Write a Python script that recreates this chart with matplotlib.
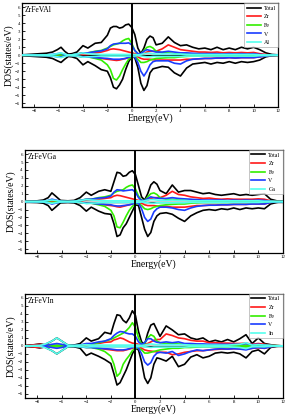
import matplotlib
matplotlib.use("Agg")
import matplotlib.pyplot as plt
import numpy as np

plt.rcParams['font.family'] = ['Liberation Serif', 'DejaVu Serif']

# energy grid (eV): a head that differs per compound, then a shared tail
tail_e = [-4.5, -4, -3.6, -3, -2.5, -2, -1.75, -1.5, -1.25, -1, -0.75, -0.5, -0.25, 0,
          0.25, 0.5, 0.75, 1, 1.25, 1.5, 1.75, 2, 2.5, 3, 3.5, 4, 4.5, 5, 5.5, 6, 6.5,
          7, 7.5, 8, 8.5, 9, 9.5, 10, 10.5, 11, 11.5, 12]
head_al = [-9, -8, -7, -6.5, -6.1, -5.8, -5.5, -5.2, -4.9]
head_ga = [-9, -8, -7.5, -7.1, -6.8, -6.5, -6.1, -5.5, -5]
head_in = [-9, -8.2, -7.8, -7.4, -6.8, -6.4, -6.0, -5.5, -5]

# ---- ZrFeVAl ----
al_total_up = [0.05, 0.15, 0.25, 0.4, 0.7, 1.0, 0.5, 0.15, 0.2,
               0.4, 1.2, 0.9, 1.5, 1.6, 2.5, 3.4, 3.6, 3.6, 3.4, 3.5, 3.8, 3.9, 3.5, 2.6, 0.9,
               0.2, 0.9, 2.0, 2.4, 2.2, 1.3, 1.5, 2.3, 1.6, 1.2, 1.3, 1.0, 0.8, 0.9, 0.7, 1.0,
               0.7, 0.9, 0.7, 1.0, 0.8, 1.0, 0.7, 0.3, 0.1, 0.05]
al_total_dn = [-0.05, -0.15, -0.25, -0.4, -0.7, -0.9, -0.5, -0.15, -0.2,
               -0.4, -1.2, -0.8, -1.3, -1.8, -2.0, -2.8, -4.0, -4.2, -3.7, -3.0, -1.8, -0.8, -0.2,
               -0.3, -1.5, -3.5, -4.4, -3.8, -2.2, -1.7, -1.6, -1.4, -1.5, -2.2, -2.6, -1.6, -1.1,
               -1.0, -0.9, -1.1, -0.9, -1.0, -0.8, -1.0, -0.8, -0.9, -0.8, -0.6, -0.2, -0.05, 0]
al_zr_up = [0, 0.02, 0.03, 0.05, 0.08, 0.1, 0.05, 0.02, 0.05,
            0.1, 0.2, 0.2, 0.3, 0.4, 0.6, 0.75, 0.8, 0.75, 0.7, 0.6, 0.5, 0.4, 0.3, 0.2, 0.1,
            0.1, 0.2, 0.4, 0.5, 0.5, 0.5, 0.8, 1.3, 1.0, 0.7, 0.6, 0.5, 0.4, 0.4, 0.35, 0.4,
            0.3, 0.35, 0.3, 0.35, 0.3, 0.35, 0.2, 0.1, 0.02, 0]
al_zr_dn = [0, -0.02, -0.03, -0.05, -0.08, -0.1, -0.05, -0.02, -0.05,
            -0.1, -0.15, -0.15, -0.3, -0.4, -0.5, -0.55, -0.6, -0.65, -0.6, -0.5, -0.4, -0.3,
            -0.2, -0.15, -0.2, -0.4, -0.5, -0.5, -0.5, -0.55, -0.6, -0.6, -0.6, -0.6, -0.6,
            -0.5, -0.5, -0.45, -0.4, -0.4, -0.35, -0.35, -0.3, -0.35, -0.3, -0.3, -0.3, -0.2,
            -0.1, -0.02, 0]
al_fe_up = [0, 0.02, 0.03, 0.05, 0.1, 0.15, 0.05, 0, 0.05,
            0.15, 0.3, 0.3, 0.5, 0.6, 0.9, 1.1, 1.3, 1.4, 1.5, 1.8, 2.0, 2.1, 1.5, 0.6, 0.2,
            0.1, 0.6, 1.0, 1.1, 0.9, 0.5, 0.3, 0.3, 0.2, 0.2, 0.15, 0.1, 0.1, 0.1, 0.1, 0.1,
            0.1, 0.1, 0.1, 0.1, 0.1, 0.1, 0.05, 0.02, 0, 0]
al_fe_dn = [0, -0.02, -0.03, -0.05, -0.1, -0.1, -0.05, 0, -0.05,
            -0.1, -0.2, -0.2, -0.4, -0.6, -1.2, -1.8, -2.9, -3.1, -2.6, -1.8, -1.1, -0.5, -0.2,
            -0.2, -0.5, -0.9, -0.9, -0.8, -0.6, -0.5, -0.4, -0.35, -0.3, -0.3, -0.2, -0.15,
            -0.1, -0.1, -0.1, -0.1, -0.1, -0.1, -0.1, -0.1, -0.1, -0.1, -0.1, -0.05, -0.02, 0, 0]
al_v_up = [0, 0.03, 0.05, 0.1, 0.2, 0.25, 0.1, 0.02, 0.05,
           0.15, 0.3, 0.3, 0.45, 0.55, 0.8, 1.2, 1.4, 1.45, 1.5, 1.5, 1.5, 1.55, 1.3, 0.6, 0.2,
           0.2, 0.5, 0.7, 0.6, 0.5, 0.4, 0.4, 0.5, 0.4, 0.3, 0.3, 0.25, 0.2, 0.2, 0.2, 0.2,
           0.15, 0.2, 0.15, 0.2, 0.15, 0.2, 0.1, 0.05, 0, 0]
al_v_dn = [0, -0.03, -0.05, -0.1, -0.2, -0.2, -0.1, -0.02, -0.05,
           -0.1, -0.2, -0.2, -0.3, -0.35, -0.4, -0.45, -0.5, -0.5, -0.5, -0.45, -0.4, -0.25,
           -0.1, -0.2, -0.9, -2.0, -2.6, -2.0, -1.2, -0.8, -0.7, -0.7, -0.7, -1.0, -1.1, -0.7,
           -0.5, -0.45, -0.4, -0.4, -0.35, -0.35, -0.3, -0.35, -0.3, -0.3, -0.3, -0.2, -0.1,
           -0.02, 0]
al_x_up = [0, 0.02, 0.05, 0.1, 0.2, 0.3, 0.15, 0.02, 0.05,
           0.15, 0.3, 0.2, 0.15, 0.1, 0.1, 0.1, 0.1, 0.1, 0.1, 0.1, 0.1, 0.1, 0.1, 0.1, 0.05,
           0.1, 0.2, 0.25, 0.25, 0.2, 0.15, 0.15, 0.2, 0.15, 0.15, 0.1, 0.1, 0.1, 0.1, 0.1,
           0.1, 0.1, 0.1, 0.1, 0.1, 0.1, 0.1, 0.05, 0.05, 0.02, 0]
al_x_dn = [0, -0.02, -0.05, -0.1, -0.2, -0.3, -0.15, -0.02, -0.05,
           -0.1, -0.25, -0.2, -0.15, -0.1, -0.1, -0.1, -0.1, -0.1, -0.1, -0.1, -0.1, -0.1,
           -0.1, -0.1, -0.05, -0.1, -0.15, -0.2, -0.2, -0.15, -0.15, -0.15, -0.15, -0.15,
           -0.15, -0.1, -0.1, -0.1, -0.1, -0.1, -0.1, -0.1, -0.1, -0.1, -0.1, -0.1, -0.1,
           -0.05, -0.05, -0.02, 0]

# ---- ZrFeVGa ----
ga_total_up = [0.05, 0.1, 0.2, 0.5, 1.1, 0.7, 0.15, 0.1, 0.15,
               0.5, 1.2, 0.8, 1.3, 1.5, 1.3, 2.5, 3.7, 3.6, 3.2, 3.3, 3.7, 3.9, 3.4, 2.0, 0.6,
               0.2, 1.0, 2.1, 2.5, 2.2, 1.4, 1.0, 2.1, 1.2, 1.4, 1.4, 1.2, 1.0, 1.1, 0.9, 0.8,
               0.9, 1.0, 0.8, 0.9, 0.8, 0.9, 1.0, 0.3, 0.1, 0.05]
ga_total_dn = [-0.05, -0.1, -0.2, -0.5, -1.1, -0.7, -0.15, -0.1, -0.15,
               -0.5, -1.2, -0.7, -1.2, -1.5, -1.6, -2.8, -4.4, -4.2, -3.3, -2.8, -2.0, -1.2, -0.4,
               -0.5, -2.0, -3.5, -4.4, -3.9, -2.5, -1.8, -1.5, -1.4, -1.6, -2.1, -2.5, -1.8, -1.4,
               -1.1, -1.0, -1.1, -0.9, -1.0, -0.8, -1.0, -0.8, -0.9, -0.8, -0.9, -0.3, -0.1, 0]
ga_zr_up = [0, 0.02, 0.03, 0.05, 0.1, 0.05, 0.02, 0.02, 0.05,
            0.1, 0.2, 0.2, 0.3, 0.4, 0.5, 0.7, 0.8, 0.75, 0.65, 0.55, 0.45, 0.35, 0.25, 0.15,
            0.1, 0.1, 0.2, 0.4, 0.5, 0.5, 0.5, 0.8, 1.3, 0.9, 0.8, 0.6, 0.5, 0.4, 0.45, 0.35,
            0.3, 0.35, 0.3, 0.3, 0.3, 0.3, 0.35, 0.3, 0.1, 0.02, 0]
ga_zr_dn = [0, -0.02, -0.03, -0.05, -0.1, -0.05, -0.02, -0.02, -0.05,
            -0.1, -0.15, -0.15, -0.3, -0.4, -0.5, -0.55, -0.65, -0.7, -0.6, -0.5, -0.4, -0.3,
            -0.2, -0.15, -0.2, -0.4, -0.5, -0.5, -0.5, -0.55, -0.6, -0.6, -0.7, -0.7, -0.7,
            -0.6, -0.5, -0.5, -0.45, -0.45, -0.4, -0.4, -0.35, -0.35, -0.35, -0.3, -0.3, -0.3,
            -0.1, -0.02, 0]
ga_fe_up = [0, 0.02, 0.03, 0.1, 0.15, 0.1, 0.02, 0.02, 0.05,
            0.15, 0.3, 0.3, 0.5, 0.6, 0.8, 1.1, 1.3, 1.4, 1.5, 1.8, 2.0, 2.1, 1.6, 0.7, 0.2,
            0.1, 0.6, 1.0, 1.1, 0.9, 0.5, 0.3, 0.3, 0.2, 0.2, 0.15, 0.1, 0.1, 0.1, 0.1, 0.1,
            0.1, 0.1, 0.1, 0.1, 0.1, 0.1, 0.1, 0.05, 0.02, 0]
ga_fe_dn = [0, -0.02, -0.03, -0.1, -0.15, -0.1, -0.02, -0.02, -0.05,
            -0.1, -0.2, -0.2, -0.4, -0.6, -1.1, -1.8, -3.2, -3.3, -2.6, -1.8, -1.1, -0.6, -0.3,
            -0.2, -0.5, -0.9, -1.0, -0.9, -0.7, -0.6, -0.5, -0.4, -0.35, -0.3, -0.3, -0.2,
            -0.15, -0.1, -0.1, -0.1, -0.1, -0.1, -0.1, -0.1, -0.1, -0.1, -0.1, -0.1, -0.05,
            -0.02, 0]
ga_v_up = [0, 0.03, 0.05, 0.15, 0.3, 0.2, 0.05, 0.02, 0.05,
           0.15, 0.3, 0.3, 0.45, 0.5, 0.7, 1.2, 1.5, 1.45, 1.35, 1.4, 1.45, 1.5, 1.2, 0.5, 0.15,
           0.15, 0.4, 0.6, 0.5, 0.45, 0.4, 0.4, 0.5, 0.4, 0.35, 0.3, 0.25, 0.2, 0.2, 0.2, 0.2,
           0.15, 0.2, 0.15, 0.2, 0.15, 0.2, 0.15, 0.05, 0, 0]
ga_v_dn = [0, -0.03, -0.05, -0.15, -0.3, -0.2, -0.05, -0.02, -0.05,
           -0.1, -0.2, -0.2, -0.3, -0.35, -0.4, -0.5, -0.55, -0.55, -0.5, -0.45, -0.4, -0.3,
           -0.15, -0.2, -0.9, -2.0, -2.5, -2.2, -1.3, -0.9, -0.7, -0.7, -0.8, -1.0, -1.1, -0.8,
           -0.6, -0.5, -0.45, -0.45, -0.4, -0.4, -0.35, -0.35, -0.35, -0.3, -0.3, -0.3, -0.1,
           -0.02, 0]
ga_x_up = [0, 0.02, 0.05, 0.15, 0.2, 0.15, 0.05, 0.02, 0.05,
           0.15, 0.25, 0.2, 0.15, 0.1, 0.1, 0.1, 0.1, 0.1, 0.1, 0.1, 0.1, 0.1, 0.1, 0.1, 0.05,
           0.1, 0.2, 0.25, 0.25, 0.2, 0.15, 0.15, 0.2, 0.15, 0.15, 0.1, 0.1, 0.1, 0.1, 0.1,
           0.1, 0.1, 0.1, 0.1, 0.1, 0.1, 0.1, 0.05, 0.05, 0.02, 0]
ga_x_dn = [0, -0.02, -0.05, -0.15, -0.2, -0.15, -0.05, -0.02, -0.05,
           -0.1, -0.25, -0.2, -0.15, -0.1, -0.1, -0.1, -0.1, -0.1, -0.1, -0.1, -0.1, -0.1,
           -0.1, -0.1, -0.05, -0.1, -0.15, -0.2, -0.2, -0.15, -0.15, -0.15, -0.15, -0.15,
           -0.15, -0.1, -0.1, -0.1, -0.1, -0.1, -0.1, -0.1, -0.1, -0.1, -0.1, -0.1, -0.1,
           -0.05, -0.05, -0.02, 0]

# ---- ZrFeVIn ----
in_total_up = [0.05, 0.15, 0.25, 0.15, 0.6, 1.0, 0.6, 0.1, 0.1,
               0.3, 1.0, 0.6, 0.9, 1.7, 1.5, 2.8, 3.9, 3.8, 3.2, 2.9, 3.5, 4.4, 3.8, 1.8, 0.5,
               0.2, 1.6, 2.6, 2.8, 2.0, 1.2, 2.5, 2.0, 1.4, 1.5, 1.0, 0.8, 1.0, 0.5, 0.7, 0.5,
               0.8, 0.5, 0.9, 1.4, 0.3, 1.0, 0.3, 0.15, 0.05, 0]
in_total_dn = [-0.05, -0.15, -0.25, -0.15, -0.6, -1.0, -0.6, -0.1, -0.1,
               -0.3, -1.2, -0.9, -1.3, -1.7, -2.2, -3.5, -4.9, -4.6, -3.8, -3.0, -2.0, -1.0, -0.3,
               -0.5, -2.0, -4.0, -4.7, -4.0, -2.3, -1.5, -1.6, -1.9, -1.3, -2.6, -2.3, -1.4, -1.1,
               -1.5, -1.3, -0.9, -0.8, -0.9, -0.8, -1.0, -1.5, -0.7, -0.5, -1.0, -0.2, -0.05, 0]
in_zr_up = [0, 0.15, 0.2, 0.1, 0.02, 0.05, 0.02, 0, 0.02,
            0.1, 0.2, 0.2, 0.3, 0.45, 0.5, 0.75, 0.85, 1.0, 0.9, 0.7, 0.5, 0.35, 0.3, 0.2, 0.1,
            0.15, 0.3, 0.5, 0.7, 0.8, 0.8, 1.5, 1.3, 1.0, 0.9, 0.7, 0.6, 0.6, 0.4, 0.4, 0.35,
            0.35, 0.3, 0.3, 0.35, 0.2, 0.3, 0.2, 0.1, 0.02, 0]
in_zr_dn = [0, -0.15, -0.2, -0.1, -0.02, -0.05, -0.02, 0, -0.02,
            -0.1, -0.15, -0.15, -0.3, -0.4, -0.5, -0.55, -0.6, -0.6, -0.6, -0.5, -0.4, -0.3,
            -0.2, -0.15, -0.3, -0.5, -0.6, -0.65, -0.7, -0.75, -0.8, -0.8, -1.1, -1.0, -0.8,
            -0.7, -0.6, -0.6, -0.5, -0.45, -0.4, -0.4, -0.35, -0.35, -0.4, -0.3, -0.25, -0.3,
            -0.1, -0.02, 0]
in_fe_up = [0, 0.02, 0.03, 0.02, 0.05, 0.1, 0.05, 0.02, 0.03,
            0.1, 0.2, 0.2, 0.4, 0.6, 0.8, 1.0, 1.2, 1.4, 1.6, 1.9, 2.3, 2.9, 2.3, 1.0, 0.2,
            0.3, 1.0, 1.4, 1.2, 0.6, 0.4, 0.3, 0.3, 0.25, 0.2, 0.15, 0.15, 0.1, 0.1, 0.1, 0.1,
            0.1, 0.1, 0.1, 0.1, 0.1, 0.1, 0.1, 0.05, 0.02, 0]
in_fe_dn = [0, -0.02, -0.03, -0.02, -0.05, -0.1, -0.05, -0.02, -0.03,
            -0.1, -0.2, -0.2, -0.4, -0.7, -1.3, -2.3, -3.8, -3.4, -2.3, -1.7, -1.2, -0.6, -0.3,
            -0.3, -0.5, -0.9, -0.9, -0.8, -0.7, -0.6, -0.5, -0.4, -0.3, -0.3, -0.2, -0.2,
            -0.15, -0.1, -0.1, -0.1, -0.1, -0.1, -0.1, -0.1, -0.1, -0.1, -0.1, -0.1, -0.05,
            -0.02, 0]
in_v_up = [0, 0.03, 0.05, 0.05, 0.2, 0.3, 0.2, 0.02, 0.05,
           0.1, 0.3, 0.3, 0.5, 0.6, 0.9, 1.3, 1.6, 1.8, 1.75, 1.6, 1.5, 1.5, 1.2, 0.5, 0.2,
           0.4, 0.9, 0.9, 0.6, 0.45, 0.4, 0.5, 0.4, 0.5, 0.3, 0.3, 0.25, 0.25, 0.2, 0.2, 0.2,
           0.2, 0.2, 0.2, 0.3, 0.15, 0.2, 0.1, 0.05, 0, 0]
in_v_dn = [0, -0.03, -0.05, -0.05, -0.2, -0.3, -0.2, -0.02, -0.05,
           -0.1, -0.2, -0.2, -0.3, -0.35, -0.4, -0.45, -0.5, -0.5, -0.5, -0.45, -0.35, -0.2,
           -0.1, -0.3, -1.0, -2.0, -2.4, -2.1, -1.3, -0.9, -0.8, -0.9, -0.7, -1.2, -1.0, -0.7,
           -0.5, -0.6, -0.5, -0.4, -0.35, -0.4, -0.35, -0.4, -0.5, -0.3, -0.2, -0.3, -0.1,
           -0.02, 0]
in_x_up = [0, 0.03, 0.05, 0.2, 0.6, 1.0, 0.6, 0.1, 0.05,
           0.1, 0.15, 0.1, 0.1, 0.1, 0.1, 0.1, 0.1, 0.1, 0.1, 0.1, 0.1, 0.1, 0.1, 0.1, 0.05,
           0.1, 0.2, 0.25, 0.2, 0.15, 0.15, 0.15, 0.15, 0.15, 0.15, 0.1, 0.1, 0.1, 0.1, 0.1,
           0.1, 0.1, 0.15, 0.2, 0.4, 0.1, 0.15, 0.1, 0.05, 0.02, 0]
in_x_dn = [0, -0.03, -0.05, -0.2, -0.6, -1.0, -0.6, -0.1, -0.05,
           -0.1, -0.15, -0.1, -0.1, -0.1, -0.1, -0.1, -0.1, -0.1, -0.1, -0.1, -0.1, -0.1,
           -0.1, -0.1, -0.05, -0.1, -0.15, -0.2, -0.15, -0.15, -0.15, -0.15, -0.15, -0.15,
           -0.15, -0.1, -0.1, -0.1, -0.1, -0.1, -0.1, -0.1, -0.15, -0.2, -0.35, -0.1, -0.1,
           -0.1, -0.05, -0.02, 0]

panels = [
    ('ZrFeVAl', 'Al', head_al, al_total_up, al_total_dn, al_zr_up, al_zr_dn,
     al_fe_up, al_fe_dn, al_v_up, al_v_dn, al_x_up, al_x_dn),
    ('ZrFeVGa', 'Ga', head_ga, ga_total_up, ga_total_dn, ga_zr_up, ga_zr_dn,
     ga_fe_up, ga_fe_dn, ga_v_up, ga_v_dn, ga_x_up, ga_x_dn),
    ('ZrFeVIn', 'In', head_in, in_total_up, in_total_dn, in_zr_up, in_zr_dn,
     in_fe_up, in_fe_dn, in_v_up, in_v_dn, in_x_up, in_x_dn),
]

colors = ['black', '#ff1a1a', '#33ee00', '#1a3cff', '#55ffee']
boxes = [[0.077, 0.743, 0.895, 0.249],
         [0.087, 0.393, 0.902, 0.247],
         [0.087, 0.046, 0.902, 0.249]]

fig = plt.figure(figsize=(2.86, 4.17), dpi=100)

for box, p in zip(boxes, panels):
    name, x_el, head = p[0], p[1], p[2]
    series = p[3:]
    e = np.array(head + tail_e)
    for s in series:
        if len(s) != len(e):
            raise ValueError(f'{name}: length {len(s)} != {len(e)}')
    ax = fig.add_axes(box)
    ax.axhline(0, color='black', lw=1.0, zorder=1)
    labels = ['Total', 'Zr', 'Fe', 'V', x_el]
    for k in range(5):
        up, dn = series[2 * k], series[2 * k + 1]
        ax.plot(e, up, color=colors[k], lw=1.2, zorder=2 + k, label=labels[k])
        ax.plot(e, dn, color=colors[k], lw=1.2, zorder=2 + k)
    ax.axvline(0, color='black', lw=1.4, zorder=10)
    ax.set_xlim(-9, 12)
    ax.set_ylim(-6.5, 6.5)
    ax.set_xticks(np.arange(-8, 13, 2))
    ax.set_yticks(np.arange(-6, 7, 1))
    ax.tick_params(direction='in', labelsize=3.5, length=2, width=0.6, pad=1.5)
    for sp in ax.spines.values():
        sp.set_linewidth(0.9)
    ax.set_xlabel('Energy(eV)', fontsize=7, labelpad=0)
    ax.set_ylabel('DOS(states/eV)', fontsize=7, labelpad=1)
    ax.text(0.012, 0.97, name, transform=ax.transAxes, fontsize=5.5,
            ha='left', va='top')
    leg = ax.legend(loc='upper right', fontsize=4.2, handlelength=2.4,
                    handletextpad=0.5, labelspacing=0.6, borderpad=0.4,
                    frameon=True, fancybox=False, borderaxespad=0.0)
    leg.get_frame().set_edgecolor('#999999')
    leg.get_frame().set_linewidth(0.5)
    leg.set_zorder(20)

fig.savefig('out.png', dpi=100)
